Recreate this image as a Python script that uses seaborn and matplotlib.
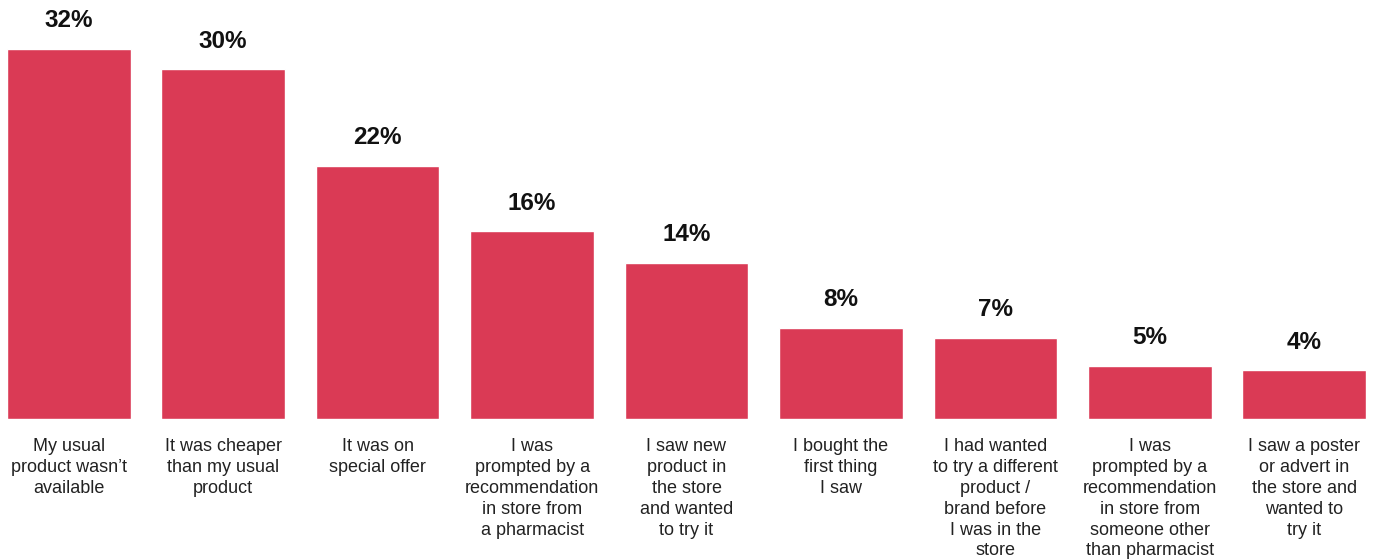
import matplotlib
matplotlib.use("Agg")
import matplotlib.pyplot as plt
import seaborn as sns
import pandas as pd

categories = [
    "My usual\nproduct wasn\u2019t\navailable",
    "It was cheaper\nthan my usual\nproduct",
    "It was on\nspecial offer",
    "I was\nprompted by a\nrecommendation\nin store from\na pharmacist",
    "I saw new\nproduct in\nthe store\nand wanted\nto try it",
    "I bought the\nfirst thing\nI saw",
    "I had wanted\nto try a different\nproduct /\nbrand before\nI was in the\nstore",
    "I was\nprompted by a\nrecommendation\nin store from\nsomeone other\nthan pharmacist",
    "I saw a poster\nor advert in\nthe store and\nwanted to\ntry it",
]
values = [32.0, 30.2, 21.9, 16.2, 13.5, 7.9, 7.0, 4.6, 4.2]
value_labels = ["32%", "30%", "22%", "16%", "14%", "8%", "7%", "5%", "4%"]

sns.set_theme(style="white")
plt.rcParams["font.family"] = ["Liberation Sans", "DejaVu Sans"]

df = pd.DataFrame({"reason": categories, "share": values})

fig = plt.figure(figsize=(13.75, 5.6), dpi=100)
ax = fig.add_axes([7 / 1375, 141 / 560, 1359 / 1375, 419 / 560])
sns.barplot(data=df, x="reason", y="share", color="#DA3A55", width=0.8,
            saturation=1, ax=ax)

ax.set_xlim(-0.4, 8.4)
ax.set_ylim(0, 36.2)
ax.set_xlabel("")
ax.set_ylabel("")
ax.set_yticks([])
for s in ax.spines.values():
    s.set_visible(False)
ax.tick_params(axis="x", length=0, pad=14, labelsize=13, labelcolor="#222222")
for lbl in ax.get_xticklabels():
    lbl.set_linespacing(1.29)

for i, (v, t) in enumerate(zip(values, value_labels)):
    ax.annotate(t, (i, v), xytext=(0, 12), textcoords="offset points",
                ha="center", va="bottom", fontsize=17.5, fontweight="bold",
                color="#111111")

fig.savefig("out.png", dpi=100)
